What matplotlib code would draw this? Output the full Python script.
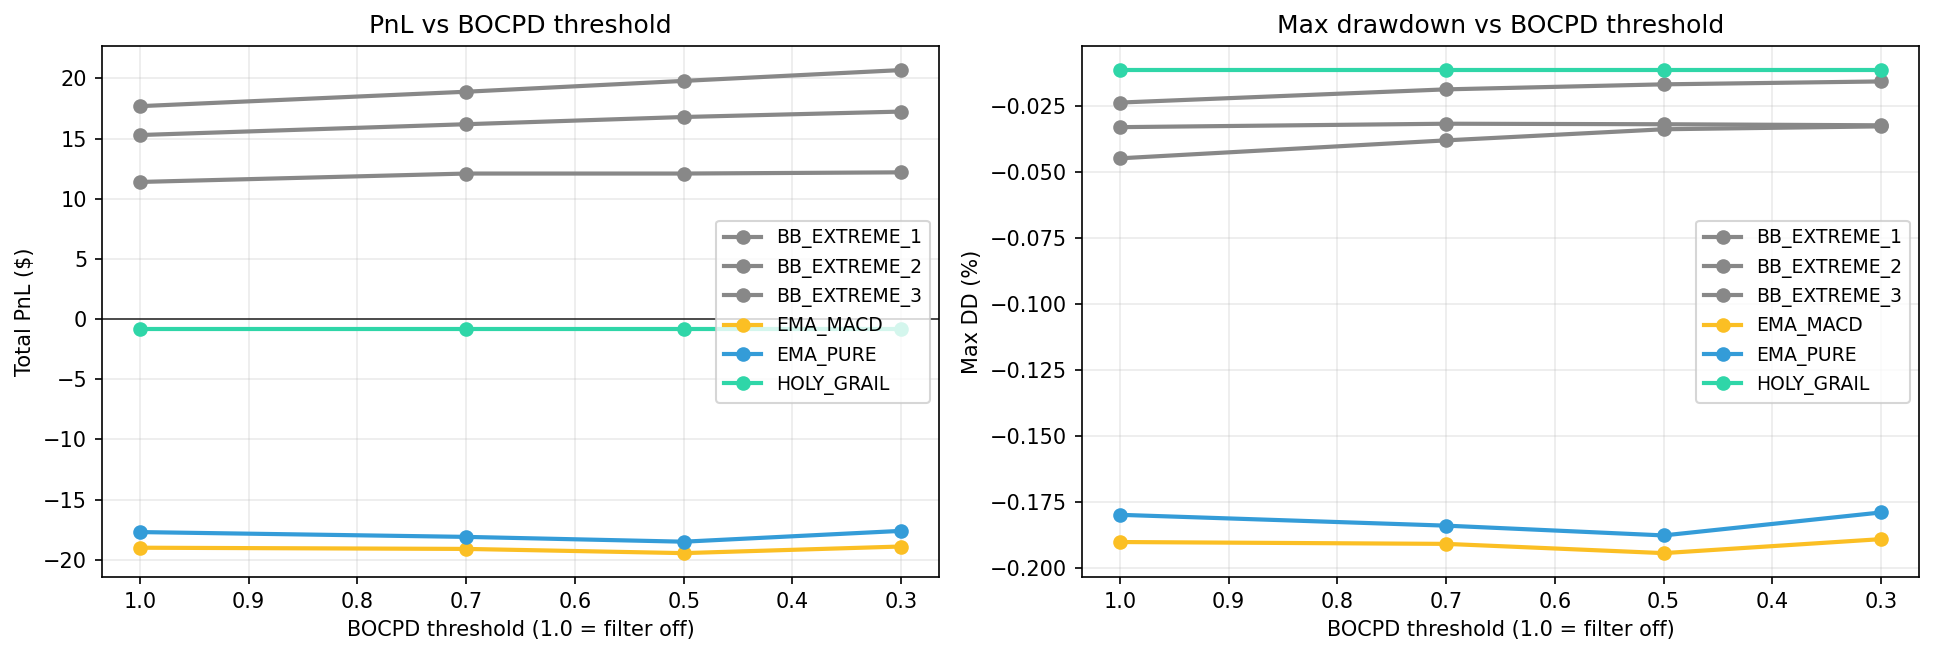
import matplotlib
matplotlib.use("Agg")
import matplotlib.pyplot as plt

thresholds = [1.0, 0.7, 0.5, 0.3]
strategies = ["BB_EXTREME_1", "BB_EXTREME_2", "BB_EXTREME_3", "EMA_MACD", "EMA_PURE", "HOLY_GRAIL"]
colors = ["#888888", "#888888", "#888888", "#fbbf24", "#349cd8", "#2fd6a8"]

pnl_bb1 = [17.7, 18.9, 19.8, 20.7]
pnl_bb2 = [15.3, 16.2, 16.8, 17.25]
pnl_bb3 = [11.4, 12.1, 12.1, 12.2]
pnl_ema_macd = [-19.0, -19.1, -19.45, -18.9]
pnl_ema_pure = [-17.7, -18.1, -18.5, -17.6]
pnl_holy = [-0.78, -0.78, -0.78, -0.78]

dd_bb1 = [-0.0237, -0.0187, -0.0168, -0.0157]
dd_bb2 = [-0.0330, -0.0317, -0.0319, -0.0323]
dd_bb3 = [-0.0448, -0.0380, -0.0338, -0.0327]
dd_ema_macd = [-0.1900, -0.1907, -0.1942, -0.1889]
dd_ema_pure = [-0.1797, -0.1838, -0.1875, -0.1788]
dd_holy = [-0.0114, -0.0114, -0.0114, -0.0114]

pnl = [pnl_bb1, pnl_bb2, pnl_bb3, pnl_ema_macd, pnl_ema_pure, pnl_holy]
dd = [dd_bb1, dd_bb2, dd_bb3, dd_ema_macd, dd_ema_pure, dd_holy]

fig, axes = plt.subplots(1, 2, figsize=(1934/150, 656/150), dpi=150)
fig.subplots_adjust(left=0.0526, right=0.9924, top=0.930, bottom=0.120, wspace=0.170)

ax = axes[0]
for name, c, vals in zip(strategies, colors, pnl):
    ax.plot(thresholds, vals, marker="o", color=c, lw=2, label=name)
ax.axhline(0, color="black", lw=0.8, alpha=0.8)
ax.invert_xaxis()
ax.set_title("PnL vs BOCPD threshold")
ax.set_xlabel("BOCPD threshold (1.0 = filter off)")
ax.set_ylabel("Total PnL ($)")
ax.grid(alpha=0.25)
ax.legend(loc="center right", fontsize=9)

ax = axes[1]
for name, c, vals in zip(strategies, colors, dd):
    ax.plot(thresholds, vals, marker="o", color=c, lw=2, label=name)
ax.invert_xaxis()
ax.set_title("Max drawdown vs BOCPD threshold")
ax.set_xlabel("BOCPD threshold (1.0 = filter off)")
ax.set_ylabel("Max DD (%)")
ax.grid(alpha=0.25)
ax.legend(loc="center right", fontsize=9)

fig.savefig("out.png", dpi=150)
